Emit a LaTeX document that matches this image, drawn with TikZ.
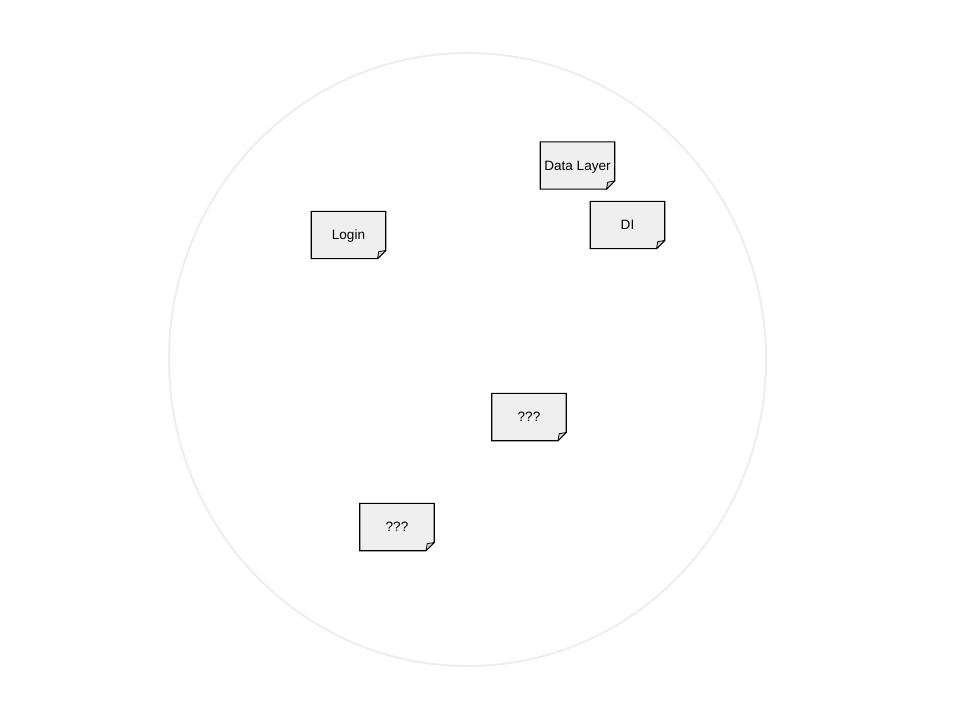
\documentclass[tikz,border=0pt]{standalone}
\usepackage{fontspec}
\setmainfont{Liberation Sans}
\definecolor{notefill}{HTML}{EFEFEF}
\definecolor{ringline}{HTML}{EDEDED}
\tikzset{
  notebox/.style={shape=rectangle, minimum width=43pt, minimum height=27.6pt,
    inner sep=0pt, font=\fontsize{7.7}{9}\selectfont, text depth=-1.2pt,
    path picture={
      \path (path picture bounding box.north west) coordinate (nw)
            (path picture bounding box.south east) coordinate (se);
      \draw[fill=notefill, line width=0.6pt]
        ([shift={(0.3pt,-0.3pt)}]nw) -| ([shift={(-0.3pt,5pt)}]se)
        -- ([shift={(-5pt,0.3pt)}]se) -| cycle;
      \draw[fill=gray!35, line width=0.45pt, line join=round]
        ([shift={(-5pt,0.3pt)}]se) -- ([shift={(-4.3pt,4.3pt)}]se)
        -- ([shift={(-0.3pt,5pt)}]se) -- cycle;
    }}
}
\begin{document}
\begin{tikzpicture}[x=0.02cm, y=-0.02cm]
  \useasboundingbox (0,0) rectangle (960,720);
  \draw[ringline, line width=1.1pt] (467.5,359.5) ellipse (298.5 and 306.5);
  \node[notebox] (data) at (577.5,165.5) {Data Layer};
  \node[notebox] (di) at (627.5,225) {DI};
  \node[notebox] (login) at (348.5,235) {Login};
  \node[notebox] (unknownA) at (529,417) {???};
  \node[notebox] (unknownB) at (397,527) {???};
\end{tikzpicture}
\end{document}
